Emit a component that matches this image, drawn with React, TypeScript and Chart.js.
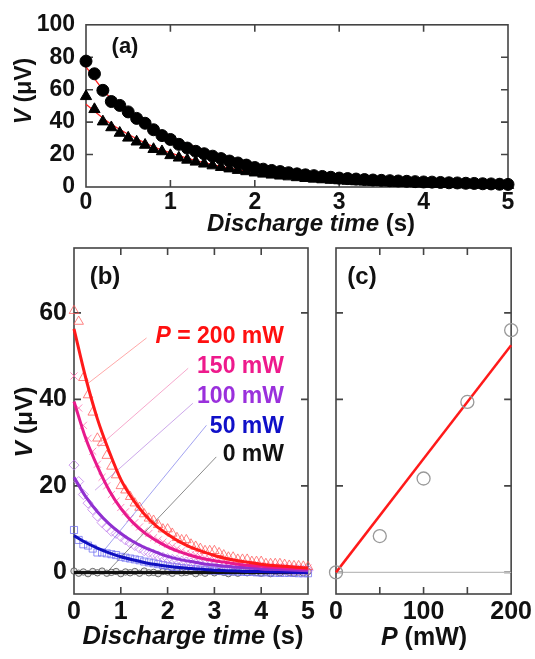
import React, { useEffect, useRef } from "react";
import { Chart, registerables } from "chart.js";
Chart.register(...registerables);

const FAM = '"Liberation Sans", Arial, Helvetica, sans-serif';

// ---------- Panel (a) data ----------
const tA = [0,0.1,0.2,0.3,0.4,0.5,0.6,0.7,0.8,0.9,1,1.1,1.2,1.3,1.4,1.5,1.6,1.7,1.8,1.9,2,2.1,2.2,2.3,2.4,2.5,2.6,2.7,2.8,2.9,3,3.1,3.2,3.3,3.4,3.5,3.6,3.7,3.8,3.9,4,4.1,4.2,4.3,4.4,4.5,4.6,4.7,4.8,4.9,5];
const circlesA = [77.6,69.8,59.6,52.7,50.3,46.3,42.3,39.3,35.3,31.7,29.3,26.3,24,22,20.5,19,17.5,16,14.8,13.5,12,11,10.2,9.5,8.8,8.1,7.5,7,6.5,6,5.5,5.2,4.9,4.6,4.3,4.1,3.9,3.7,3.5,3.3,3.1,3,2.8,2.6,2.5,2.3,2.2,2,1.9,1.7,1.6];
const trianglesA = [55.9,47.9,40.3,36.7,33.3,30.3,27.9,25.9,23.3,21.9,19.5,18,16.7,15.5,14.3,13.2,12.2,11.3,10.4,9.6,8.8,8.1,7.5,6.9,6.4,5.9,5.4,5,4.6,4.3,4,3.7,3.4,3.2,3,2.8,2.6,2.4,2.3,2.1,2,1.9,1.8,1.7,1.6,1.5,1.4,1.3,1.3,1.2,1.1];
const tFit = [0,0.25,0.5,0.75,1,1.25,1.5,1.75,2,2.25,2.5,2.75,3,3.25,3.5,3.75,4,4.25,4.5,4.75,5];
const fitCirclesA = [74,57,46,38,31,25.5,21,17.3,14.2,11.7,9.7,8,6.7,5.6,4.7,4,3.4,2.9,2.5,2.1,1.8];
const fitTrianglesA = [51,40.5,32.5,26,21,17,13.8,11.2,9.2,7.5,6.2,5.1,4.2,3.5,2.9,2.4,2,1.7,1.4,1.2,1.0];
const xTicksA = [0,1,2,3,4,5];
const yTicksA = [0,20,40,60,80,100];

// ---------- Panel (b) data ----------
const tB = tA;
const marks200 = [60.5,58,45,41,37,31,30,27,24.5,22.5,20,19,17.5,16,15,13.5,12.5,12,11,10,10,9,8,7.5,7.5,6.5,6,5.5,5,5,5,4.5,4,3.5,3.5,3,3,3,2.5,2.5,2.5,2,2,2,2,1.8,1.6,1.5,1.5,1.4,1.3];
const marks150 = [45.4,38,34,31,28,25,22,20,18,16.5,15,14,12.5,11.5,10.5,9.5,9,8,7.5,7,6.5,6,5.5,5,4.5,4.2,4,3.7,3.4,3.2,3,2.8,2.6,2.4,2.3,2.1,2,1.9,1.8,1.7,1.6,1.5,1.4,1.4,1.3,1.2,1.2,1.1,1.1,1,1];
const marks100 = [24.8,21,18,16,14.5,13,11.5,10.5,9.5,9,8.3,7.5,6.8,6.2,5.6,5,4.6,4.2,3.8,3.5,3.2,3,2.8,2.6,2.4,2.2,2,1.9,1.8,1.6,1.5,1.4,1.3,1.2,1.1,1,1,0.9,0.9,0.8,0.8,0.7,0.7,0.6,0.6,0.6,0.5,0.5,0.5,0.5,0.5];
const marks50 = [9.8,7.5,6.5,6.2,5.5,4.6,4.6,4.4,4.2,4,3.6,3.4,3.2,3,2.8,2.5,2.3,2.1,1.9,1.7,1.5,1.3,1.2,1,0.9,0.8,0.7,0.6,0.5,0.5,0.4,0.4,0.3,0.3,0.2,0.2,0.1,0.1,0.1,0,0,0,0,-0.1,-0.1,-0.1,-0.1,-0.1,-0.2,-0.2,-0.2];
const marks0 = [0.3,-0.2,0.1,-0.3,0.2,-0.1,0.3,-0.2,0,0.2,-0.3,0.1,-0.1,0.2,-0.2,0.3,-0.1,0,-0.3,0.2,0.1,-0.2,0.3,-0.1,0,0.2,-0.3,0.1,-0.2,0.3,-0.1,0.2,0,-0.3,0.1,-0.2,0.3,-0.1,0.2,0,-0.2,0.1,-0.3,0.2,-0.1,0.3,0,-0.2,0.1,-0.1,0.2];
const fit200 = [56.3,45,35.5,28,21.5,17,13.5,10.8,8.8,7.1,5.8,4.8,3.9,3.2,2.7,2.3,1.9,1.6,1.4,1.2,1.0];
const fit150 = [39.5,31,24.5,19,14.8,11.6,9.2,7.4,5.9,4.8,3.9,3.2,2.7,2.3,1.9,1.6,1.4,1.2,1.0,0.9,0.8];
const fit100 = [22,17.5,14,11.2,9,7.2,5.8,4.7,3.7,3,2.5,2,1.7,1.4,1.2,1,0.8,0.7,0.6,0.5,0.4];
const fit50 = [8.5,6.9,5.6,4.5,3.6,2.9,2.3,1.8,1.4,1.1,0.9,0.7,0.5,0.4,0.3,0.2,0.2,0.1,0.1,0,0];
const tFit0 = [0,5];
const fit0 = [0,0];
// leader lines from labels to curves (time, voltage)
const lead200T = [0.3,1.55], lead200V = [43.7,54.2];
const lead150T = [0.52,2.44], lead150V = [29,47.2];
const lead100T = [0.45,2.54], lead100V = [19,39.1];
const lead50T = [0.62,2.83], lead50V = [4.8,34];
const lead0T = [0.7,3.04], lead0V = [0,26.7];
const xTicksB = [0,1,2,3,4,5];
const yTicksB = [0,20,40,60];

// ---------- Panel (c) data ----------
const powerC = [0,50,100,150,200];
const voltC = [0,8.4,21.7,39.4,56];
const fitPC = [0,200];
const fitVC = [0,52.5];
const zeroPC = [0,200];
const zeroVC = [0,0];
const xTicksC = [0,50,100,150,200];
const xLabelsC = [0,100,200];
const yTicksC = [0,20,40,60];

type Seg = { t: string; it?: boolean };
type TextItem = { segs: Seg[]; size: number; x: number; y: number; rot?: boolean; color?: string; align?: "center" | "right" | "left" };

function pts(xs: number[], ys: number[]) {
  return xs.map((x, i) => ({ x, y: ys[i] }));
}

function drawText(ctx: CanvasRenderingContext2D, item: TextItem) {
  ctx.save();
  ctx.translate(item.x, item.y);
  if (item.rot) ctx.rotate(-Math.PI / 2);
  ctx.textBaseline = "middle";
  ctx.textAlign = "left";
  ctx.fillStyle = item.color || "#111";
  const fonts = item.segs.map((s) => `${s.it ? "italic " : ""}bold ${item.size}px ${FAM}`);
  const widths = item.segs.map((s, i) => {
    ctx.font = fonts[i];
    return ctx.measureText(s.t).width;
  });
  const total = widths.reduce((a, b) => a + b, 0);
  let x = item.align === "right" ? -total : item.align === "left" ? 0 : -total / 2;
  item.segs.forEach((s, i) => {
    ctx.font = fonts[i];
    ctx.fillText(s.t, x, 0);
    x += widths[i];
  });
  ctx.restore();
}

function framePlugin(texts: TextItem[]) {
  return {
    id: "frame",
    beforeDatasetsDraw(chart: any) {
      const { ctx, chartArea } = chart;
      const { left, right, top, bottom } = chartArea;
      const xs = chart.scales.x;
      const ys = chart.scales.y;
      const L = 7;
      ctx.save();
      ctx.strokeStyle = "#444";
      ctx.lineWidth = 1.6;
      ctx.beginPath();
      for (const t of xs.ticks) {
        const p = xs.getPixelForValue(t.value);
        if (p < left + 2 || p > right - 2) continue;
        ctx.moveTo(p, bottom);
        ctx.lineTo(p, bottom - L);
        ctx.moveTo(p, top);
        ctx.lineTo(p, top + L);
      }
      for (const t of ys.ticks) {
        const p = ys.getPixelForValue(t.value);
        if (p < top + 2 || p > bottom - 2) continue;
        ctx.moveTo(left, p);
        ctx.lineTo(left + L, p);
        ctx.moveTo(right, p);
        ctx.lineTo(right - L, p);
      }
      ctx.stroke();
      ctx.strokeRect(left, top, right - left, bottom - top);
      ctx.restore();
    },
    afterDraw(chart: any) {
      texts.forEach((t) => drawText(chart.ctx, t));
    },
  };
}

function scaleOpts(min: number, max: number, ticks: number[], size: number, padding: number, fit: (s: any) => void, label?: (v: number) => string) {
  return {
    type: "linear",
    min,
    max,
    afterBuildTicks: (s: any) => {
      s.ticks = ticks.map((v) => ({ value: v }));
    },
    afterFit: fit,
    grid: { display: false, drawTicks: false },
    border: { display: false },
    ticks: {
      font: { family: FAM, size, weight: "bold" },
      color: "#111",
      padding,
      autoSkip: false,
      maxRotation: 0,
      callback: label || ((v: number) => String(v)),
    },
  };
}

function baseOptions(scales: any, padding: any) {
  return {
    responsive: false,
    maintainAspectRatio: false,
    animation: false,
    events: [],
    layout: { padding },
    plugins: { legend: { display: false }, tooltip: { enabled: false } },
    scales,
  };
}

const lineDs = (data: any[], color: string, width: number) => ({
  data,
  showLine: true,
  borderColor: color,
  borderWidth: width,
  pointRadius: 0,
  fill: false,
  cubicInterpolationMode: "monotone",
  clip: false,
});

const markDs = (data: any[], style: string, radius: number, border: string, bg: string, bw: number) => ({
  data,
  showLine: false,
  pointStyle: style,
  pointRadius: radius,
  borderColor: border,
  backgroundColor: bg,
  borderWidth: bw,
  clip: false,
});

export default function App() {
  const refA = useRef<HTMLCanvasElement>(null);
  const refB = useRef<HTMLCanvasElement>(null);
  const refC = useRef<HTMLCanvasElement>(null);

  useEffect(() => {
    const charts: Chart[] = [];

    // ---- Panel (a) ----
    charts.push(
      new Chart(refA.current as HTMLCanvasElement, {
        type: "scatter",
        data: {
          datasets: [
            markDs(pts(tA, circlesA), "circle", 6, "#000", "#000", 1),
            markDs(pts(tA, trianglesA), "triangle", 6.5, "#000", "#000", 1),
            lineDs(pts(tFit, fitCirclesA), "#ff2020", 1.3),
            lineDs(pts(tFit, fitTrianglesA), "#ff2020", 1.3),
          ] as any,
        },
        options: baseOptions(
          {
            x: scaleOpts(0, 5, xTicksA, 23, 2, (s: any) => { s.height = 40; }),
            y: scaleOpts(0, 100, yTicksA, 23, 11, (s: any) => { s.width = 86; }),
          },
          { left: 0, top: 20, right: 27, bottom: 432 }
        ) as any,
        plugins: [
          framePlugin([
            { segs: [{ t: "(a)" }], size: 22, x: 125, y: 47 },
            { segs: [{ t: "V", it: true }, { t: " (μV)" }], size: 23, x: 25, y: 91, rot: true },
            { segs: [{ t: "Discharge time", it: true }, { t: " (s)" }], size: 24, x: 311, y: 224 },
          ]),
        ] as any,
      })
    );

    // ---- Panel (b) ----
    charts.push(
      new Chart(refB.current as HTMLCanvasElement, {
        type: "scatter",
        data: {
          datasets: [
            lineDs(pts(tFit, fit200), "#ff1a1a", 3),
            lineDs(pts(tFit, fit150), "#e8198c", 3),
            lineDs(pts(tFit, fit100), "#9030d0", 3),
            lineDs(pts(tFit, fit50), "#1010c0", 3),
            lineDs(pts(tFit0, fit0), "#111", 3),
            lineDs(pts(lead200T, lead200V), "rgba(255,110,110,0.6)", 1),
            lineDs(pts(lead150T, lead150V), "rgba(240,110,170,0.6)", 1),
            lineDs(pts(lead100T, lead100V), "rgba(170,110,220,0.6)", 1),
            lineDs(pts(lead50T, lead50V), "rgba(100,100,230,0.6)", 1),
            lineDs(pts(lead0T, lead0V), "rgba(90,90,90,0.7)", 1),
            markDs(pts(tB, marks200), "triangle", 5.5, "rgba(255,90,90,0.75)", "rgba(0,0,0,0)", 1),
            markDs(pts(tB, marks150), "crossRot", 5, "rgba(255,100,170,0.75)", "rgba(0,0,0,0)", 1),
            markDs(pts(tB, marks100), "rectRot", 5, "rgba(190,120,235,0.75)", "rgba(0,0,0,0)", 1),
            markDs(pts(tB, marks50), "rect", 5, "rgba(110,110,240,0.75)", "rgba(0,0,0,0)", 1),
            markDs(pts(tB, marks0), "circle", 3.2, "rgba(80,80,80,0.8)", "rgba(200,200,200,0.6)", 1),
          ] as any,
        },
        options: baseOptions(
          {
            x: scaleOpts(0, 5, xTicksB, 25, 3, (s: any) => { s.height = 40; }),
            y: scaleOpts(-5, 75, yTicksB, 25, 7, (s: any) => { s.width = 74; }),
          },
          { left: 0, top: 248, right: 227, bottom: 25 }
        ) as any,
        plugins: [
          framePlugin([
            { segs: [{ t: "(b)" }], size: 24, x: 105, y: 277 },
            { segs: [{ t: "V", it: true }, { t: " (μV)" }], size: 24.5, x: 25, y: 422, rot: true },
            { segs: [{ t: "Discharge time", it: true }, { t: " (s)" }], size: 25.5, x: 193, y: 637 },
            { segs: [{ t: "P", it: true }, { t: " = 200 mW" }], size: 23, x: 284, y: 337, align: "right", color: "#ff1010" },
            { segs: [{ t: "150 mW" }], size: 23, x: 284, y: 367, align: "right", color: "#ee1a8c" },
            { segs: [{ t: "100 mW" }], size: 23, x: 284, y: 397, align: "right", color: "#9a30dc" },
            { segs: [{ t: "50 mW" }], size: 23, x: 284, y: 427, align: "right", color: "#1010c8" },
            { segs: [{ t: "0 mW" }], size: 23, x: 284, y: 455, align: "right", color: "#111" },
          ]),
        ] as any,
      })
    );

    // ---- Panel (c) ----
    charts.push(
      new Chart(refC.current as HTMLCanvasElement, {
        type: "scatter",
        data: {
          datasets: [
            markDs(pts(powerC, voltC), "circle", 6.5, "#999", "rgba(0,0,0,0)", 1.3),
            lineDs(pts(fitPC, fitVC), "#ff1a1a", 2.5),
            lineDs(pts(zeroPC, zeroVC), "#bdbdbd", 1.2),
          ] as any,
        },
        options: baseOptions(
          {
            x: scaleOpts(0, 200, xTicksC, 25, 3, (s: any) => { s.height = 40; }, (v: number) => (xLabelsC.includes(v) ? String(v) : "")),
            y: scaleOpts(-5, 75, yTicksC, 25, 7, (s: any) => { s.width = 40; }, () => ""),
          },
          { left: 296, top: 248, right: 23, bottom: 25 }
        ) as any,
        plugins: [
          framePlugin([
            { segs: [{ t: "(c)" }], size: 24, x: 362, y: 277 },
            { segs: [{ t: "P", it: true }, { t: " (mW)" }], size: 25, x: 424, y: 638 },
          ]),
        ] as any,
      })
    );

    return () => charts.forEach((c) => c.destroy());
  }, []);

  const cs: React.CSSProperties = { position: "absolute", left: 0, top: 0, width: 535, height: 659 };
  return (
    <div style={{ position: "absolute", left: 0, top: 0, width: 535, height: 659, background: "#fff" }}>
      <canvas ref={refA} width={535} height={659} style={cs} />
      <canvas ref={refB} width={535} height={659} style={cs} />
      <canvas ref={refC} width={535} height={659} style={cs} />
    </div>
  );
}
